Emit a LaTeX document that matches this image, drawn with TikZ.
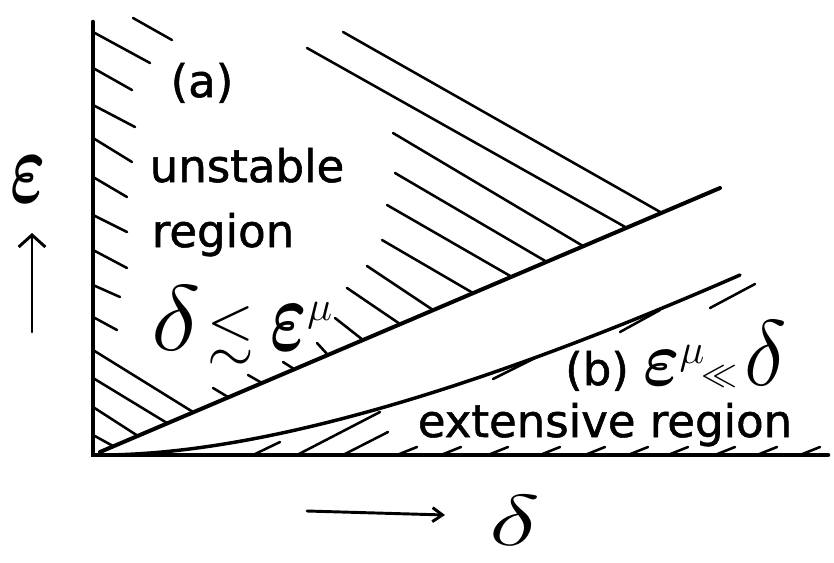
\RequirePackage{fix-cm}
\documentclass[tikz,border=0pt]{standalone}
\usepackage{amssymb}
\usepackage{graphicx}
\usepackage{fontspec}
\setmainfont{DejaVu Sans}
\newfontfamily\hwfont{DejaVu Sans}[BoldFont={DejaVu Sans},BoldFeatures={FakeBold=1.2}]
\usetikzlibrary{arrows.meta}
\newcommand{\hwtext}{\hwfont\bfseries\fontsize{33.75}{40}\selectfont}
\newcommand{\heps}[2]{\scalebox{#1}[#2]{\boldmath$\varepsilon$}}
\begin{document}
\begin{tikzpicture}[x=0.75pt,y=0.75pt,line cap=round,
  >={Straight Barb[length=9pt,width=20pt]},
  axis/.style={line width=3.4pt},
  bound/.style={line width=3pt},
  hatch/.style={line width=1.9pt},
  pointer/.style={line width=2.2pt,->},
  lbl/.style={anchor=base,inner sep=0pt,font=\hwtext}]
\useasboundingbox (0,0) rectangle (834,562);
\coordinate (O) at (93,107);
\coordinate (Ytop) at (93,540);
\coordinate (Xend) at (828,107);
\coordinate (Aend) at (720,374);
\coordinate (Bend) at (740,287);
\coordinate (vs) at (32,230);
\coordinate (ve) at (32,329);
\coordinate (hs) at (307,51);
\coordinate (he) at (445,47);
\foreach \a/\b/\c/\d in {133/544/172/522,93/530/150/499,93/494/132/472,93/457/135/435,
  93/424/132/400,93/385/127/365,93/347/127/330,93/312/127/294,93/277/120/265,
  93/245/117/232,93/212/193/150,93/184/167/139,93/155/138/126,93/127/113/116}
  \draw[hatch] (\a,\b) -- (\c,\d);
\foreach \a/\b/\c/\d in {213/174/228/165,248/187/262/179,283/200/294/193,317/219/328/207,
  335/244/363/222,347/274/400/238,367/296/433/252,382/322/473/269,387/357/512/285,
  395/389/547/300,393/429/583/316,307/514/627/334,343/530/662/349}
  \draw[hatch] (\a,\b) -- (\c,\d);
\foreach \a/\b/\c/\d in {253/107/280/120,297/107/380/150,343/107/388/130,
  493/183/535/204,620/230/660/252,710/254/755/278}
  \draw[hatch] (\a,\b) -- (\c,\d);
\foreach \x in {397,441,488,540,585,628,668,715,757,800}
  \draw[hatch] (\x,107) -- (\x+20,115);
\draw[bound] (100,110) -- (Aend);
\draw[bound,line width=2.6pt] (100,107) .. controls (270,107) and (500,182) .. (Bend);
\draw[axis] (Ytop) -- (O) -- (Xend);
\draw[pointer] (vs) -- (ve);
\draw[pointer,>={Straight Barb[length=7.5pt,width=10.5pt]}] (hs) -- (he);
\node[lbl] (a) at (202,465) {(a)};
\node[lbl] (unst) at (247,380) {unstable};
\node[lbl] (reg) at (223,315) {region};
\node[lbl] (cond) at (242,212) {\fontsize{45}{50}\selectfont$\scalebox{1.75}[1.55]{$\delta$}\!\lesssim\heps{1.15}{1.7}^{\mu}$};
\node[lbl] (b) at (676,177) {(b) {\fontsize{45}{50}\selectfont$\heps{1.15}{1.3}^{\mu}\!\!\mathrel{\scalebox{0.6}{$\ll$}}\!\scalebox{1.5}[1.55]{$\delta$}$}};
\node[lbl] (ext) at (605,125) {extensive region};
\node (eps) at (28,382) {\fontsize{50}{56}\selectfont\heps{1}{1.55}};
\node[anchor=south,inner sep=0pt] (del) at (515,16) {\scalebox{1.5}[1]{\fontsize{54}{60}\selectfont$\delta$}};
\end{tikzpicture}
\end{document}
